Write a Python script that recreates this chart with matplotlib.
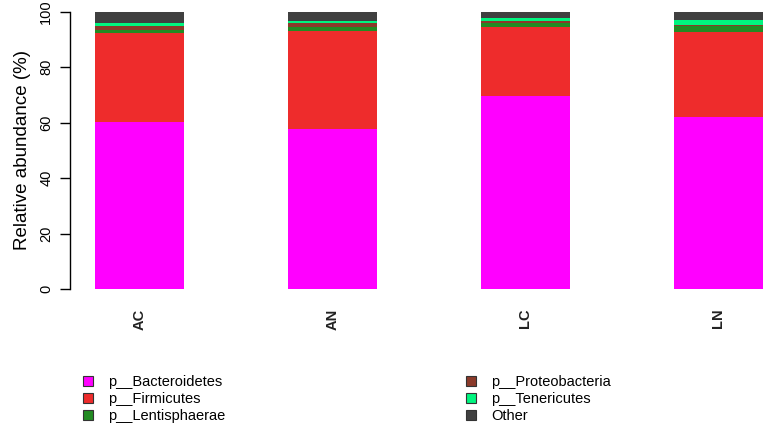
import numpy as np
import matplotlib
matplotlib.use("Agg")
import matplotlib.pyplot as plt
from matplotlib.patches import Patch

plt.rcParams['font.family'] = ['Liberation Sans', 'DejaVu Sans']

# samples and phylum abundances (%)
samples = ['AC', 'AN', 'LC', 'LN']
phyla = ['p__Bacteroidetes', 'p__Firmicutes', 'p__Lentisphaerae',
         'p__Proteobacteria', 'p__Tenericutes', 'Other']
bacteroidetes = [60.2, 57.7, 69.6, 62.0]
firmicutes = [32.1, 35.5, 25.0, 30.8]
lentisphaerae = [1.1, 1.4, 1.5, 1.9]
proteobacteria = [1.3, 1.2, 0.4, 0.6]
tenericutes = [1.4, 0.7, 1.2, 1.7]
other = [3.9, 3.5, 2.3, 3.0]
colors = ['#FF00FF', '#EE2C2C', '#228B22', '#8B3A2A', '#00F57F', '#404040']

series = [bacteroidetes, firmicutes, lentisphaerae, proteobacteria, tenericutes, other]

fig = plt.figure(figsize=(7.63, 4.24), dpi=100)
ax = fig.add_axes([70/763, 135/424, 693/763, 277.3/424])

x = np.arange(len(samples))
bottom = np.zeros(len(samples))
for vals, col in zip(series, colors):
    ax.bar(x, vals, width=0.461, bottom=bottom, color=col, linewidth=0)
    bottom += np.array(vals)

ax.set_xlim(-0.360, 3.231)
ax.set_ylim(0, 100)
for s in ['top', 'right', 'bottom']:
    ax.spines[s].set_visible(False)
ax.spines['left'].set_linewidth(1.0)
ax.set_yticks([0, 20, 40, 60, 80, 100])
ax.tick_params(axis='y', length=7, width=1.0, labelsize=10.5, pad=5, labelrotation=90)
for lab in ax.get_yticklabels():
    lab.set_va('center')
ax.set_ylabel('Relative abundance (%)', fontsize=13.5, labelpad=6)
ax.set_xticks(x)
ax.set_xticklabels(samples, rotation=90, fontsize=10.5, fontweight='bold', color='#222222')
ax.tick_params(axis='x', length=0, pad=14)

handles = [Patch(facecolor=c, edgecolor='#333333', linewidth=0.8) for c in colors]
leg_kw = dict(frameon=False, fontsize=10.5, handlelength=0.7, handleheight=0.7,
              handletextpad=1.0, labelspacing=0.2, borderaxespad=0, borderpad=0)
fig.legend(handles[:3], phyla[:3], loc='upper left',
           bbox_to_anchor=(83/763, 1 - 375/424), **leg_kw)
fig.legend(handles[3:], phyla[3:], loc='upper left',
           bbox_to_anchor=(466/763, 1 - 375/424), **leg_kw)

fig.savefig('out.png', dpi=100)
